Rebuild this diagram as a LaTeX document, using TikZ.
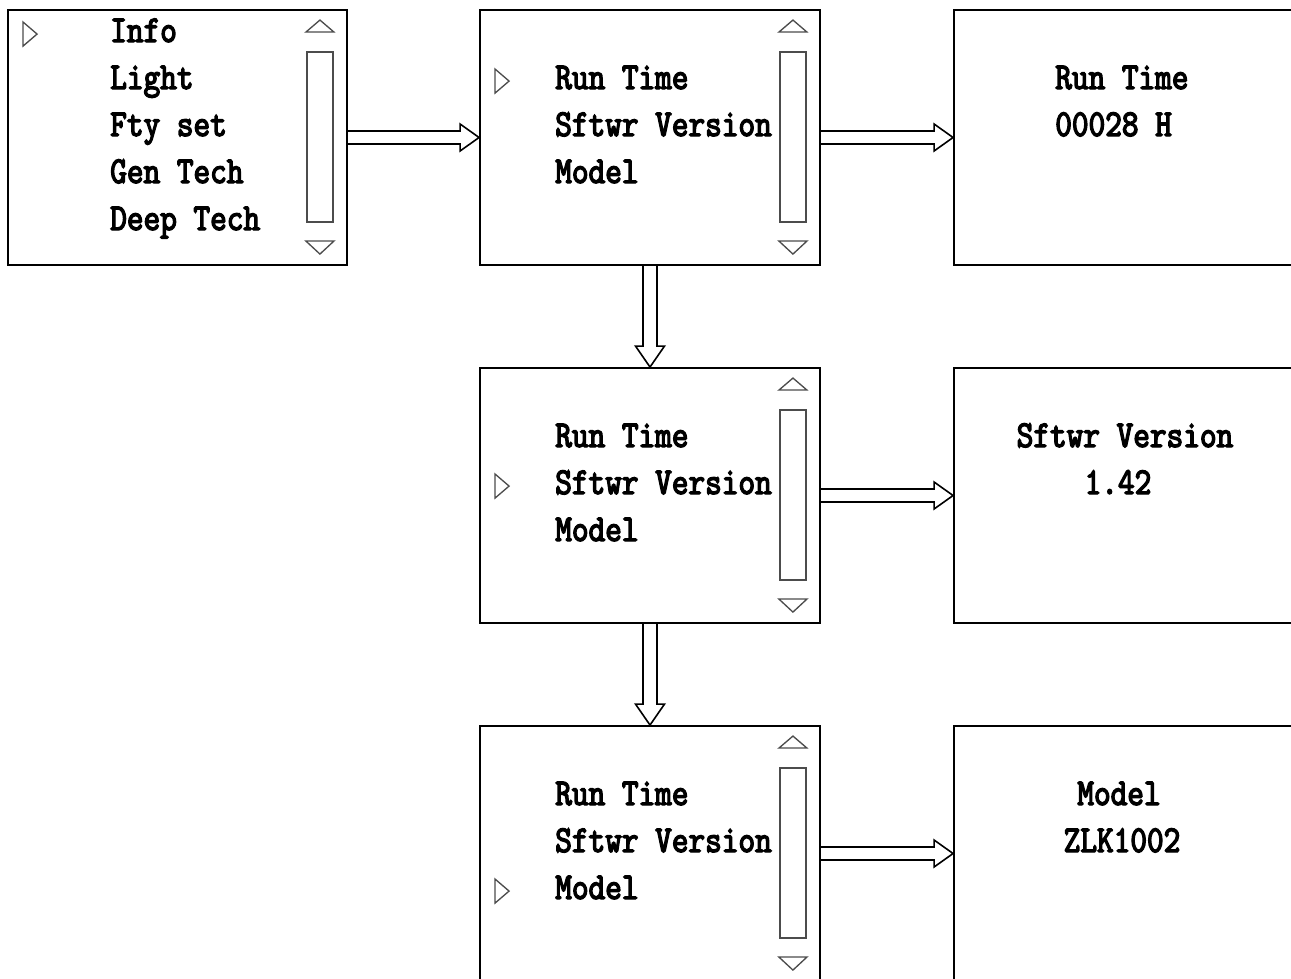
\documentclass[tikz,border=0pt]{standalone}
\usepackage{fontspec}
\usetikzlibrary{calc,positioning}
\newfontfamily\lcdfont{lmmono10-regular.otf}[FakeBold=3.5, FakeStretch=0.835]
\newcommand{\lcd}{\lcdfont\fontsize{28.5pt}{35pt}\selectfont}

\begin{document}
\begin{tikzpicture}[
    x=0.75pt, y=-0.75pt,
    screen/.style={draw, line width=1.4pt, rectangle, minimum width=255pt, minimum height=191.25pt, inner sep=0pt},
    item/.style={font=\lcd, anchor=base west, inner sep=0pt},
    value/.style={font=\lcd, anchor=base, inner sep=0pt},
    glyph/.style={line width=1pt, gray!60!black},
    hollowR/.style={line width=1.2pt, to path={
        ($(\tikztostart)+(0,-6.5)$) -- ($(\tikztotarget)+(-19,-6.5)$) -- ($(\tikztotarget)+(-19,-13.5)$)
        -- (\tikztotarget) -- ($(\tikztotarget)+(-19,13.5)$) -- ($(\tikztotarget)+(-19,6.5)$) -- ($(\tikztostart)+(0,6.5)$)}},
    hollowD/.style={line width=1.2pt, to path={
        ($(\tikztostart)+(-7,0)$) -- ($(\tikztotarget)+(-7,-21)$) -- ($(\tikztotarget)+(-14.5,-21)$)
        -- (\tikztotarget) -- ($(\tikztotarget)+(14.5,-21)$) -- ($(\tikztotarget)+(7,-21)$) -- ($(\tikztostart)+(7,0)$)}}
]
\useasboundingbox (0,0) rectangle (1291,978);

% Main menu
\node[screen, minimum width=254.25pt] (menu) at (177.5,137.5) {};
\foreach \t [count=\i] in {Info,Light,Fty set,Gen Tech,Deep Tech}
    \node[item] (menu\i) at (110,-5+47*\i) {\t};

% Info submenus
\node[screen] (info1) at (650,137.5) {};
\node[screen] (info2) at (650,495.5) {};
\node[screen] (info3) at (650,853.5) {};
\foreach \b/\y in {info1/89, info2/447, info3/805} {
    \node[item] (\b-a) at (555,\y) {Run Time};
    \node[item] (\b-b) at (555,\y+47) {Sftwr Version};
    \node[item] (\b-c) at (555,\y+94) {Model};
}

% Scroll bars and pointers
\foreach \b/\k in {menu/0, info1/1, info2/2, info3/3} {
    \draw[glyph] ($(\b.north east)+(-41,43)$) rectangle ($(\b.north east)+(-15,213)$);
    \draw[glyph] ($(\b.north east)+(-42,23)$) -- ++(14,-12) -- ++(14,12) -- cycle;
    \draw[glyph] ($(\b.north east)+(-42,232)$) -- ++(14,13) -- ++(14,-13) -- cycle;
    \draw[glyph] ($(\b.north west)+(16,13+47*\k)$) -- ++(14,12) -- ++(-14,12) -- cycle;
}

% Value screens
\node[screen] (runtime) at (1124,137.5) {};
\node[screen] (version) at (1124,495.5) {};
\node[screen] (model) at (1124,853.5) {};
\node[item] (rt-a) at (1055,89) {Run Time};
\node[item] (rt-b) at (1055,136) {00028 H};
\node[value] (sv-a) at (1125,447) {Sftwr Version};
\node[value] (sv-b) at (1118,494) {1.42};
\node[value] (md-a) at (1119,805) {Model};
\node[value] (md-b) at (1122,852) {ZLK1002};

% Arrows
\draw[hollowR] (menu.east) to (info1.west);
\draw[hollowR] (info1.east) to (runtime.west);
\draw[hollowR] (info2.east) to (version.west);
\draw[hollowR] (info3.east) to (model.west);
\draw[hollowD] (info1.south) to (info2.north);
\draw[hollowD] (info2.south) to (info3.north);
\end{tikzpicture}
\end{document}
